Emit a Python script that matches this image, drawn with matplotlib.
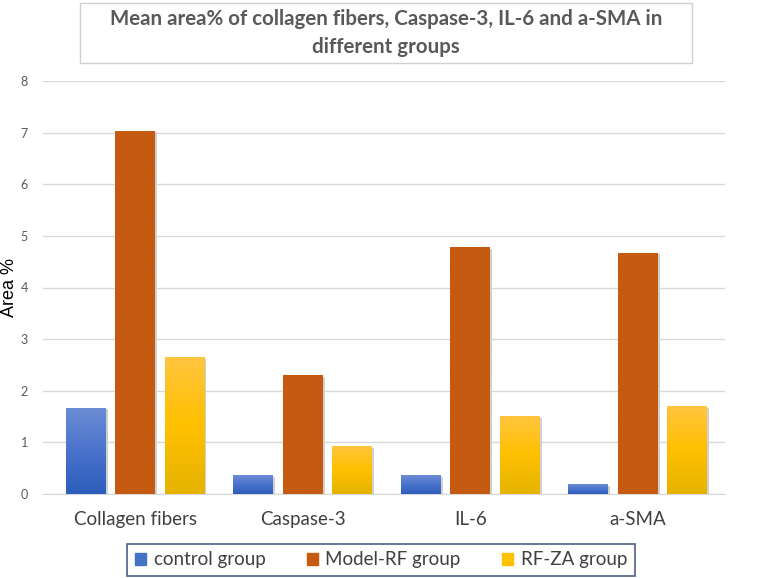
import numpy as np
import matplotlib.pyplot as plt
from matplotlib.colors import LinearSegmentedColormap
from matplotlib.patches import Rectangle

categories = ["Collagen fibers", "Caspase-3", "IL-6", "a-SMA"]
groups = ["control group", "Model-RF group", "RF-ZA group"]
control = [1.67, 0.36, 0.36, 0.19]
model_rf = [7.04, 2.30, 4.78, 4.67]
rf_za = [2.65, 0.93, 1.51, 1.70]

# (top, middle, bottom) colours for the bar gradients
grads = [
    ["#6c8dd5", "#4a73cc", "#2c5dbb"],
    ["#c55a11", "#c55a11", "#c55a11"],
    ["#ffc53f", "#ffc000", "#e5b300"],
]
legend_colors = ["#4472c4", "#c55a11", "#ffc000"]
label_font = ["Lato", "DejaVu Sans"]

fig = plt.figure(figsize=(7.65, 5.78), dpi=100)
ax = fig.add_axes([43 / 765, 1 - 494 / 578, 682 / 765, 413 / 578])

x = np.arange(len(categories))
width = 0.238
pitch = 0.295
series = [control, model_rf, rf_za]

for i, (vals, g) in enumerate(zip(series, grads)):
    cmap = LinearSegmentedColormap.from_list(f"g{i}", g[::-1])
    grad = np.linspace(0, 1, 256).reshape(-1, 1)
    offs = x + (i - 1) * pitch
    # soft shadow
    ax.bar(offs + 0.008, vals, width + 0.006, bottom=-0.03, color="#d0d0d0", zorder=2)
    bars = ax.bar(offs, vals, width, color=legend_colors[i], zorder=3,
                  label=groups[i])
    for b in bars:
        x0, y0 = b.get_x(), b.get_y()
        w, h = b.get_width(), b.get_height()
        im = ax.imshow(grad, cmap=cmap, origin="lower", aspect="auto",
                       extent=[x0, x0 + w, y0, y0 + h], zorder=4)
        im.set_clip_path(b)

ax.set_xlim(-0.55, 3.52)
ax.set_ylim(0, 8)
ax.set_yticks(range(0, 9))
ax.yaxis.grid(True, color="#d9d9d9", linewidth=1)
ax.set_axisbelow(True)
for s in ["top", "right", "left"]:
    ax.spines[s].set_visible(False)
ax.spines["bottom"].set_color("#d9d9d9")
ax.tick_params(axis="y", length=0, labelsize=9, labelcolor="#595959", pad=11)
ax.tick_params(axis="x", length=0, labelcolor="#404040", pad=12)
ax.set_xticks(x)
ax.set_xticklabels(categories, family=label_font, fontsize=13.5)
for t in ax.get_yticklabels():
    t.set_family(label_font)
ax.set_ylabel("Area %", fontsize=13, family="Liberation Sans")
ax.yaxis.set_label_coords(-25 / 682, 0.5)

fig.text(386 / 765, 1 - 33 / 578,
         "Mean area% of collagen fibers, Caspase-3, IL-6 and a-SMA in\ndifferent groups",
         ha="center", va="center", fontsize=14.8, fontweight="bold",
         color="#595959", linespacing=1.5, family=label_font)
fig.patches.append(Rectangle((80 / 765, 1 - 63 / 578), 612 / 765, 60 / 578,
                             transform=fig.transFigure, fill=False,
                             edgecolor="#d0d0d0", linewidth=1))

handles = [Rectangle((0, 0), 1, 1, color=c) for c in legend_colors]
leg = fig.legend(handles, groups, loc="center", ncol=3,
                 bbox_to_anchor=(381 / 765, 1 - 560 / 578),
                 frameon=True, fancybox=False,
                 prop={"family": label_font, "size": 13.5},
                 handlelength=0.6, handleheight=0.6, handletextpad=0.4,
                 columnspacing=2.2, borderpad=0.4)
leg.get_frame().set_edgecolor("#1f3864")
leg.get_frame().set_linewidth(1.2)
for t in leg.get_texts():
    t.set_color("#404040")

fig.savefig("out.png", dpi=100)
